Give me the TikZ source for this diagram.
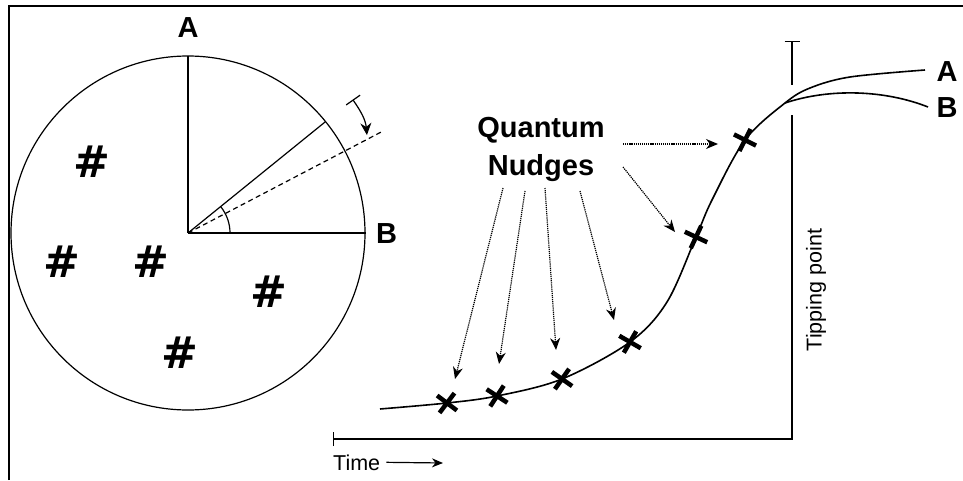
\documentclass[tikz,border=0pt]{standalone}
\usepackage{fontspec}
\setmainfont{Liberation Sans}
\newfontfamily\hashfont{DejaVu Sans}
\usetikzlibrary{arrows.meta,shapes.misc,calc}
\begin{document}
\begin{tikzpicture}[x=1pt,y=1pt,
  lbl/.style={font=\fontsize{29}{31}\selectfont\bfseries, inner sep=0pt, anchor=base},
  qlbl/.style={font=\fontsize{29}{31}\selectfont\bfseries, inner sep=0pt, anchor=base},
  hashmark/.style={font=\hashfont\fontsize{44}{46}\selectfont\bfseries, inner sep=0pt},
  smalltext/.style={font=\fontsize{21.5}{24}\selectfont, inner sep=0pt},
  thinline/.style={line width=1.2pt},
  curveline/.style={line width=1.6pt},
  xmk/.style={cross out, draw, line width=4.5pt, minimum size=13pt, inner sep=0pt},
  nudge/.style={dash pattern=on 1.2pt off 0.9pt, line width=1.2pt, -{Stealth[length=12pt,width=10pt]}},
]
\useasboundingbox (0,0) rectangle (963,480);
% frame (top and left edges)
\draw[line width=2.8pt] (9,0) -- (9,474) -- (963,474);

% circle
\coordinate (C) at (188,247);
\coordinate (pA) at (188,424);
\coordinate (pB) at (366,247);
\draw[thinline] (C) circle[radius=177];
\draw[thinline] (C) -- (pA);
\draw[thinline] (C) -- (pB);
\draw[thinline] (C) -- ++(39:177);
\draw[thinline, dash pattern=on 5pt off 3.5pt] (C) -- ++(27.6:218);
\draw[thinline] ($(C)+(42,0)$) arc[start angle=0,end angle=39,radius=42];
\draw[thinline, {Bar[width=17pt]}-{Stealth[length=12pt,width=11pt]}]
  ($(C)+(39:212)$) to[out=-55,in=95] ($(C)+(28.7:204)$);

\node[lbl] (lA) at (188,442) {A};
\node[lbl, anchor=base west] (lB) at (376,237) {B};

\node[hashmark] (h1) at (92,318) {\#};
\node[hashmark] (h2) at (62,218) {\#};
\node[hashmark] (h3) at (151,218) {\#};
\node[hashmark] (h4) at (269,188) {\#};
\node[hashmark] (h5) at (180,127) {\#};

% S-curve
\draw[curveline] plot[smooth, tension=0.55] coordinates {
  (380,71) (447,77) (497,84) (562,101) (630,138) (667,178) (696,243)
  (712,280) (745,340) (785,377) (810,392) (850,403) (925,410)};
\draw[curveline] (785,377) .. controls (830,392) and (885,390) .. (928,373);

\node[lbl] (rA) at (947,398) {A};
\node[lbl] (rB) at (947,362) {B};

% marks
\node[xmk, rotate=8] (m1) at (447,77) {};
\node[xmk, rotate=12] (m2) at (497,84) {};
\node[xmk, rotate=10] (m3) at (562,101) {};
\node[xmk, rotate=15] (m4) at (630,138) {};
\node[xmk, rotate=20] (m5) at (696,243) {};
\node[xmk, rotate=18] (m6) at (745,340) {};

% axes
\coordinate (tpTop) at (792,439);
\coordinate (tpGapTop) at (792,395);
\coordinate (tpGapBot) at (792,365);
\coordinate (corner) at (792,41);
\coordinate (t0) at (333,41);
\draw[thinline, -{Bar[width=15pt]}] (tpGapTop) -- (tpTop);
\draw[thinline, {Bar[width=14pt]}-] (t0) -- (corner) -- (tpGapBot);

\node[smalltext, rotate=90] (tp) at (816,190) {Tipping point};
\node[smalltext, anchor=base west] (time) at (333,10) {Time};
\coordinate (tarr) at (443,17);
\draw[thinline, -{Stealth[length=11pt,width=9pt]}] ($(time.east)+(6,0)$) -- (tarr);

% Quantum Nudges
\node[qlbl] (q1) at (541,342) {Quantum};
\node[qlbl] (q2) at (541,305) {Nudges};

\coordinate (s1) at (623,336); \coordinate (e1) at (718,336);
\coordinate (s2) at (623,313); \coordinate (e2) at (675,248);
\coordinate (s3) at (503,292); \coordinate (e3) at (455,101);
\coordinate (s4) at (525,289); \coordinate (e4) at (499,116);
\coordinate (s5) at (545,292); \coordinate (e5) at (556,130);
\coordinate (s6) at (580,289); \coordinate (e6) at (614,160);
\foreach \i in {1,...,6} { \draw[nudge] (s\i) -- (e\i); }
\end{tikzpicture}
\end{document}
